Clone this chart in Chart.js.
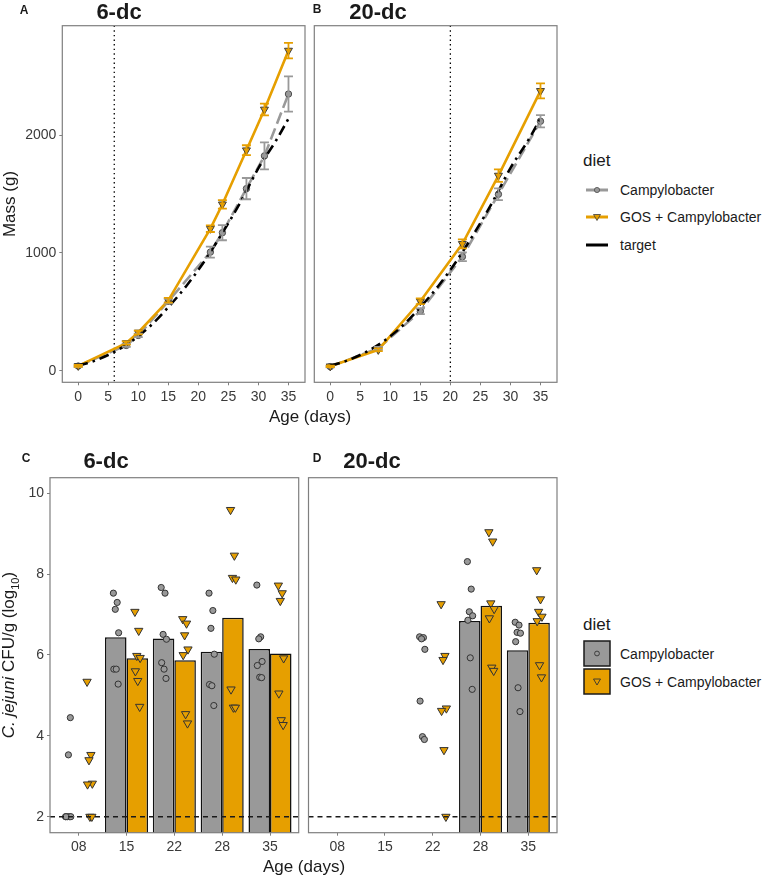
<!DOCTYPE html>
<html>
<head>
<meta charset="utf-8">
<script src="https://cdn.jsdelivr.net/npm/chart.js@4.4.1/dist/chart.umd.min.js"></script>
<style>
body { margin: 0; background: #fff; width: 763px; height: 877px; position: relative; overflow: hidden;
  font-family: "Liberation Sans", Arial, sans-serif; color: #1a1a1a; }
canvas { position: absolute; }
.t { position: absolute; white-space: nowrap; transform: translate(-50%, -50%); }
.l { position: absolute; white-space: nowrap; transform: translateY(-50%); }
.tag { font-weight: bold; font-size: 12px; }
.ttl { font-weight: bold; font-size: 22px; }
.axt { font-size: 17px; }
.leg { font-size: 14px; }
.rot { transform: translate(-50%, -50%) rotate(-90deg); }
svg { position: absolute; }
</style>
</head>
<body>

<canvas id="chartA" width="310" height="410" style="left:0;top:0"></canvas>
<canvas id="chartB" width="253" height="410" style="left:310px;top:0"></canvas>
<canvas id="chartC" width="303" height="437" style="left:0;top:440px"></canvas>
<canvas id="chartD" width="260" height="437" style="left:303px;top:440px"></canvas>

<div class="t tag" style="left:24px;top:10px">A</div>
<div class="t ttl" style="left:119px;top:12px">6-dc</div>
<div class="t tag" style="left:317px;top:9px">B</div>
<div class="t ttl" style="left:378px;top:12px">20-dc</div>
<div class="t axt rot" style="left:10px;top:204px">Mass (g)</div>
<div class="t axt" style="left:310px;top:417px">Age (days)</div>

<div class="l axt" style="left:583px;top:161px">diet</div>
<svg style="left:584px;top:180px" width="26" height="76">
  <line x1="2" y1="10" x2="24" y2="10" stroke="#999999" stroke-width="3"/>
  <circle cx="13" cy="10" r="2.6" fill="#999999" stroke="#4d4d4d" stroke-width="0.8"/>
  <line x1="2" y1="37" x2="24" y2="37" stroke="#E69F00" stroke-width="3"/>
  <polygon points="9.5,34.5 16.5,34.5 13,40.5" fill="#E69F00" stroke="#3d3d3d" stroke-width="0.8"/>
  <line x1="2" y1="65" x2="24" y2="65" stroke="#000" stroke-width="3"/>
</svg>
<div class="l leg" style="left:620px;top:190px">Campylobacter</div>
<div class="l leg" style="left:620px;top:217px">GOS + Campylobacter</div>
<div class="l leg" style="left:620px;top:245px">target</div>

<div class="t tag" style="left:26px;top:458px">C</div>
<div class="t ttl" style="left:106px;top:461px">6-dc</div>
<div class="t tag" style="left:317px;top:458px">D</div>
<div class="t ttl" style="left:372px;top:461px">20-dc</div>
<div class="t axt rot" style="left:10px;top:655px"><i>C. jejuni</i> CFU/g (log<sub style="font-size:0.65em">10</sub>)</div>
<div class="t axt" style="left:304px;top:867px">Age (days)</div>

<div class="l axt" style="left:583px;top:625px">diet</div>
<svg style="left:583px;top:640px" width="28" height="56">
  <rect x="1" y="1" width="26" height="25" fill="#999999" stroke="#1a1a1a" stroke-width="1.5"/>
  <circle cx="14" cy="13.5" r="2.4" fill="none" stroke="#333" stroke-width="0.9"/>
  <rect x="1" y="29" width="26" height="25" fill="#E69F00" stroke="#1a1a1a" stroke-width="1.5"/>
  <polygon points="10.5,39 17.5,39 14,45" fill="none" stroke="#333" stroke-width="0.9"/>
</svg>
<div class="l leg" style="left:620px;top:654px">Campylobacter</div>
<div class="l leg" style="left:620px;top:682px">GOS + Campylobacter</div>

<script>
// ---- body mass (g), panels A and B
var dayTicks = [0, 5, 10, 15, 20, 25, 30, 35];
var massTicks = [0, 1000, 2000];

var daysA = [0, 8, 10, 15, 22, 24, 28, 31, 35];
var campyA = [40, 215, 300, 590, 1007, 1172, 1546, 1824, 2349];
var campyA_se = [8, 12, 15, 20, 47, 64, 90, 115, 150];
var gosA = [42, 235, 325, 598, 1206, 1413, 1872, 2218, 2718];
var gosA_se = [8, 14, 16, 20, 28, 36, 42, 50, 66];
var switchA = 6;

var daysB = [0, 8, 15, 22, 28, 35];
var campyB = [35, 190, 505, 968, 1498, 2118];
var campyB_se = [6, 12, 25, 37, 50, 52];
var gosB = [38, 178, 590, 1077, 1657, 2376];
var gosB_se = [6, 12, 25, 38, 53, 64];
var switchB = 20;

var targetDays = [0, 3, 6, 9, 12, 15, 18, 21, 24, 27, 30, 33, 35];
var targetMass = [42, 90, 160, 255, 380, 540, 720, 930, 1170, 1430, 1720, 1960, 2140];

// ---- caecal C. jejuni (log10 CFU/g), panels C and D
var ageCats = ['08', '15', '22', '28', '35'];
var cfuTicks = [2, 4, 6, 8, 10];
var detectionLimit = 2;

var campyC = [
  [2, 2, 2, 2, 2, 3.53, 4.45],
  [7.53, 7.3, 7.13, 6.55, 5.65, 5.65, 5.28],
  [7.67, 7.53, 6.51, 6.39, 5.81, 5.65, 5.42],
  [7.53, 7.1, 6.66, 6.02, 5.27, 5.24, 4.75],
  [7.73, 6.45, 6.4, 5.84, 5.74, 5.45, 5.44]
];
var gosC = [
  [5.34, 3.53, 3.4, 2.82, 2.8, 2, 2],
  [7.07, 6.6, 5.98, 5.93, 5.6, 5.36, 4.72],
  [6.89, 6.78, 6.49, 6.14, 6.0, 4.54, 4.31],
  [9.59, 8.46, 7.91, 7.87, 5.15, 4.7, 4.7],
  [7.72, 7.53, 7.34, 5.92, 5.05, 4.39, 4.27]
];
var campyC_mean = [null, 6.44, 6.41, 6.08, 6.15];
var gosC_mean = [null, 5.92, 5.87, 6.92, 6.04];

var campyD = [
  [], [],
  [6.45, 6.43, 6.4, 6.14, 4.86, 3.98, 3.91],
  [8.31, 7.63, 7.07, 6.97, 6.86, 5.93, 5.15],
  [6.81, 6.74, 6.56, 6.54, 6.33, 5.19, 4.6]
];
var gosD = [
  [], [],
  [7.26, 5.98, 5.88, 4.68, 4.62, 3.65, 2],
  [9.04, 8.81, 7.28, 7.14, 6.91, 5.69, 5.61],
  [8.1, 7.38, 7.07, 6.95, 6.84, 5.75, 5.45]
];
var campyD_mean = [null, null, null, 6.84, 6.12];
var gosD_mean = [null, null, null, 7.22, 6.8];

var GREY = '#999999', GOLD = '#E69F00', FRAME = '#7f7f7f';
var jitter = [-0.05, 0.03, -0.01, 0.06, -0.04, 0.01, 0.05];
var dodge = 0.225;

Chart.defaults.font.family = '"Liberation Sans", Arial, sans-serif';
Chart.defaults.font.size = 14;
Chart.defaults.color = '#3a3a3a';
Chart.defaults.animation = false;

var frame = {
  id: 'frame',
  afterDraw: function(chart) {
    var a = chart.chartArea, ctx = chart.ctx;
    ctx.save();
    ctx.strokeStyle = FRAME;
    ctx.lineWidth = 1.2;
    ctx.strokeRect(a.left, a.top, a.right - a.left, a.bottom - a.top);
    ctx.restore();
  }
};

function vline(day) {
  return {
    id: 'vline',
    beforeDatasetsDraw: function(chart) {
      var a = chart.chartArea, ctx = chart.ctx;
      var px = chart.scales.x.getPixelForValue(day);
      ctx.save();
      ctx.strokeStyle = '#000';
      ctx.lineWidth = 1.3;
      ctx.setLineDash([1.4, 3.2]);
      ctx.beginPath();
      ctx.moveTo(px, a.top);
      ctx.lineTo(px, a.bottom);
      ctx.stroke();
      ctx.restore();
    }
  };
}

function hline(val) {
  return {
    id: 'hline',
    afterDatasetsDraw: function(chart) {
      var a = chart.chartArea, ctx = chart.ctx;
      var py = chart.scales.y.getPixelForValue(val);
      ctx.save();
      ctx.strokeStyle = '#1a1a1a';
      ctx.lineWidth = 1.4;
      ctx.setLineDash([5, 4]);
      ctx.beginPath();
      ctx.moveTo(a.left, py);
      ctx.lineTo(a.right, py);
      ctx.stroke();
      ctx.restore();
    }
  };
}

function errorBars(sets) {
  return {
    id: 'errorBars',
    afterDatasetsDraw: function(chart) {
      var xs = chart.scales.x, ys = chart.scales.y, ctx = chart.ctx;
      ctx.save();
      ctx.lineWidth = 1.8;
      sets.forEach(function(s) {
        ctx.strokeStyle = s.color;
        s.x.forEach(function(d, i) {
          var px = xs.getPixelForValue(d);
          var lo = ys.getPixelForValue(s.y[i] - s.e[i]);
          var hi = ys.getPixelForValue(s.y[i] + s.e[i]);
          ctx.beginPath();
          ctx.moveTo(px, lo); ctx.lineTo(px, hi);
          ctx.moveTo(px - 4.5, lo); ctx.lineTo(px + 4.5, lo);
          ctx.moveTo(px - 4.5, hi); ctx.lineTo(px + 4.5, hi);
          ctx.stroke();
        });
      });
      ctx.restore();
    }
  };
}

function xy(xs, ys) {
  return xs.map(function(x, i) { return {x: x, y: ys[i]}; });
}

function tickAxis(list, fmt) {
  return {
    afterBuildTicks: function(s) { s.ticks = list.map(function(v) { return {value: v}; }); },
    grid: { drawOnChartArea: false, drawTicks: true, tickLength: 3, color: FRAME, offset: false },
    border: { display: false },
    ticks: { autoSkip: false, maxRotation: 0, padding: 3, callback: fmt || function(v) { return v; } }
  };
}

function growthChart(id, days, campy, campySe, gos, gosSe, switchDay, pad, showY) {
  var x = tickAxis(dayTicks);
  x.type = 'linear'; x.min = -2.65; x.max = 37.75; x.offset = false;
  x.afterFit = function(s) { s.height = 27.7; };
  var y = tickAxis(massTicks);
  y.type = 'linear'; y.min = -98; y.max = 2929;
  if (showY) { y.afterFit = function(s) { s.width = 62.3; }; } else { y.display = false; }

  new Chart(document.getElementById(id), {
    type: 'line',
    data: {
      datasets: [{
        label: 'target',
        data: xy(targetDays, targetMass),
        borderColor: '#000', borderWidth: 2.6, borderDash: [10, 5, 2.5, 5],
        pointRadius: 0, cubicInterpolationMode: 'monotone', order: 0
      }, {
        label: 'GOS + Campylobacter',
        data: xy(days, gos),
        borderColor: GOLD, borderWidth: 2.6,
        pointStyle: 'triangle', rotation: 180, pointRadius: 4.6,
        pointBackgroundColor: GOLD, pointBorderColor: '#3d3d3d', pointBorderWidth: 1, order: 1
      }, {
        label: 'Campylobacter',
        data: xy(days, campy),
        borderColor: GREY, borderWidth: 2.6, borderDash: [12, 5],
        pointStyle: 'circle', pointRadius: 3.2,
        pointBackgroundColor: GREY, pointBorderColor: '#4d4d4d', pointBorderWidth: 1, order: 2
      }]
    },
    options: {
      responsive: false,
      events: [],
      layout: { autoPadding: false, padding: pad },
      plugins: { legend: { display: false }, tooltip: { enabled: false } },
      scales: { x: x, y: y }
    },
    plugins: [frame, vline(switchDay), errorBars([
      { x: days, y: campy, e: campySe, color: GREY },
      { x: days, y: gos, e: gosSe, color: GOLD }
    ])]
  });
}

function birdPoints(groups, shift) {
  var pts = [];
  groups.forEach(function(vals, i) {
    vals.forEach(function(v, j) {
      pts.push({ x: i + shift + jitter[j % jitter.length], y: v });
    });
  });
  return pts;
}

function barPoints(means) {
  return means.map(function(m, i) { return { x: i, y: m }; })
    .filter(function(p) { return p.y !== null; });
}

function cfuChart(id, campyPts, gosPts, campyMean, gosMean, pad, showY) {
  var x = tickAxis(ageCats.map(function(c, i) { return i; }), function(v) { return ageCats[v]; });
  x.type = 'linear'; x.min = -0.6; x.max = 4.6; x.offset = false;
  x.afterFit = function(s) { s.height = 44.3; };
  var y = tickAxis(cfuTicks);
  y.type = 'linear'; y.min = 1.604; y.max = 10.386;
  if (showY) { y.afterFit = function(s) { s.width = 50; }; } else { y.display = false; }

  new Chart(document.getElementById(id), {
    type: 'bar',
    data: {
      datasets: [{
        type: 'line', showLine: false,
        label: 'Campylobacter birds',
        data: birdPoints(campyPts, -dodge),
        pointStyle: 'circle', pointRadius: 3.1,
        pointBackgroundColor: GREY, pointBorderColor: '#333', pointBorderWidth: 1, order: 0
      }, {
        type: 'line', showLine: false,
        label: 'GOS birds',
        data: birdPoints(gosPts, dodge),
        pointStyle: 'triangle', rotation: 180, pointRadius: 4.8,
        pointBackgroundColor: GOLD, pointBorderColor: '#333', pointBorderWidth: 1, order: 0
      }, {
        label: 'Campylobacter',
        data: barPoints(campyMean),
        backgroundColor: GREY, borderColor: '#111', borderWidth: 1.5,
        categoryPercentage: 0.9, barPercentage: 1, clip: 0, order: 1
      }, {
        label: 'GOS + Campylobacter',
        data: barPoints(gosMean),
        backgroundColor: GOLD, borderColor: '#111', borderWidth: 1.5,
        categoryPercentage: 0.9, barPercentage: 1, clip: 0, order: 1
      }]
    },
    options: {
      responsive: false,
      events: [],
      layout: { autoPadding: false, padding: pad },
      plugins: { legend: { display: false }, tooltip: { enabled: false } },
      scales: { x: x, y: y }
    },
    plugins: [frame, hline(detectionLimit)]
  });
}

growthChart('chartA', daysA, campyA, campyA_se, gosA, gosA_se, switchA,
  { top: 25.7, right: 5, bottom: 0, left: 0 }, true);
growthChart('chartB', daysB, campyB, campyB_se, gosB, gosB_se, switchB,
  { top: 25.7, right: 6, bottom: 0, left: 4.3 }, false);
cfuChart('chartC', campyC, gosC, campyC_mean, gosC_mean,
  { top: 37.7, right: 4.3, bottom: 0, left: 0 }, true);
cfuChart('chartD', campyD, gosD, campyD_mean, gosD_mean,
  { top: 37.7, right: 6, bottom: 0, left: 5.5 }, false);
</script>
</body>
</html>
